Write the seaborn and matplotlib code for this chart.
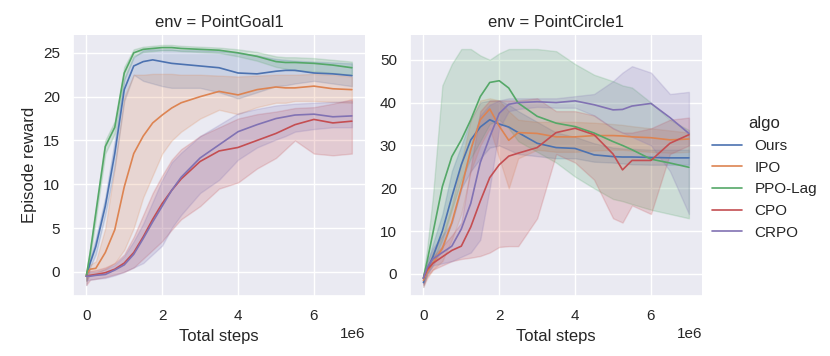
import matplotlib
matplotlib.use("Agg")
import pandas as pd
import matplotlib.pyplot as plt
import seaborn as sns

# x positions (in millions of steps)
steps = [0, 0.1, 0.25, 0.5, 0.75, 1.0, 1.25, 1.5, 1.75, 2.0, 2.25, 2.5,
         3.0, 3.5, 4.0, 4.5, 5.0, 5.25, 5.5, 6.0, 6.5, 7.0]
envs = ["PointGoal1", "PointCircle1"]
algos = ["Ours", "IPO", "PPO-Lag", "CPO", "CRPO"]

# PointGoal1 : mean / lower / upper
goal_ours = [-0.5, 1.0, 2.9, 7.5, 13.5, 20.8, 23.5, 24.0, 24.2, 24.0, 23.8, 23.7, 23.5, 23.3, 22.7, 22.6, 22.9, 23.0, 23.0, 22.7, 22.6, 22.4]
goal_ours_lo = [-1.5, 0.5, 2.0, 6.5, 12.0, 19.5, 22.5, 21.8, 21.5, 21.2, 21.0, 21.0, 21.0, 20.5, 19.8, 20.5, 21.2, 21.3, 21.5, 21.8, 21.5, 21.2]
goal_ours_hi = [0.0, 1.5, 3.8, 8.5, 15.0, 22.0, 24.5, 25.3, 25.4, 25.4, 25.4, 25.3, 25.3, 25.2, 25.0, 24.7, 24.3, 24.2, 24.1, 24.0, 23.9, 23.8]

goal_ipo = [-0.3, 0.3, 0.4, 2.2, 4.8, 9.7, 13.5, 15.5, 17.0, 17.9, 18.7, 19.3, 20.0, 20.6, 20.2, 20.8, 21.1, 21.0, 21.0, 21.2, 20.9, 20.8]
goal_ipo_lo = [-1.0, -0.3, -0.2, 0.3, 1.0, 2.5, 5.0, 8.5, 11.0, 13.5, 15.0, 16.0, 17.5, 18.5, 18.0, 18.8, 19.3, 19.3, 19.5, 19.5, 19.4, 19.3]
goal_ipo_hi = [0.2, 0.8, 1.2, 5.0, 12.0, 20.0, 22.5, 22.5, 22.6, 22.6, 22.6, 22.5, 22.5, 22.4, 22.3, 22.4, 22.5, 22.5, 22.5, 22.6, 22.5, 22.3]

goal_ppo = [-0.5, 2.1, 6.7, 14.3, 16.5, 22.7, 25.0, 25.4, 25.5, 25.6, 25.6, 25.5, 25.4, 25.3, 25.0, 24.6, 24.0, 23.9, 23.9, 23.8, 23.6, 23.3]
goal_ppo_lo = [-1.0, 1.6, 6.0, 13.5, 15.8, 22.0, 24.6, 25.1, 25.2, 25.3, 25.3, 25.2, 25.1, 25.0, 24.6, 24.1, 23.4, 23.2, 23.0, 22.9, 22.7, 22.5]
goal_ppo_hi = [0.0, 2.6, 7.4, 15.0, 17.2, 23.4, 25.4, 25.7, 25.8, 25.9, 25.9, 25.8, 25.7, 25.6, 25.4, 25.1, 24.6, 24.5, 24.5, 24.4, 24.2, 24.0]

goal_cpo = [-0.5, -0.4, -0.3, -0.1, 0.3, 1.0, 2.2, 4.0, 6.0, 7.8, 9.3, 10.6, 12.6, 13.8, 14.2, 15.0, 15.8, 16.3, 16.8, 17.4, 17.0, 17.2]
goal_cpo_lo = [-1.5, -0.9, -0.8, -0.6, -0.3, 0.0, 0.5, 1.5, 2.5, 3.5, 4.8, 6.0, 7.5, 9.5, 10.2, 11.8, 13.0, 14.0, 15.0, 13.5, 13.3, 13.5]
goal_cpo_hi = [0.0, 0.1, 0.2, 0.5, 1.0, 2.0, 4.0, 6.5, 9.0, 11.0, 12.8, 14.0, 15.5, 16.5, 17.5, 18.0, 18.3, 18.5, 18.7, 18.8, 19.2, 19.7]

goal_crpo = [-0.5, -0.5, -0.4, -0.3, 0.2, 0.8, 2.0, 3.8, 5.7, 7.5, 9.3, 10.8, 13.0, 14.5, 16.0, 16.8, 17.5, 17.7, 17.9, 18.0, 17.7, 17.8]
goal_crpo_lo = [-1.0, -0.9, -0.8, -0.7, -0.4, 0.0, 0.5, 1.0, 2.0, 3.0, 5.0, 6.5, 9.0, 10.5, 12.8, 14.2, 15.1, 15.5, 16.0, 16.3, 16.5, 16.5]
goal_crpo_hi = [0.0, 0.0, 0.0, 0.3, 0.8, 1.8, 3.5, 5.5, 8.0, 10.5, 12.5, 13.6, 15.5, 16.8, 18.1, 18.6, 19.0, 19.1, 19.2, 19.3, 19.4, 19.5]

# PointCircle1
circ_ours = [-2.0, 1.0, 4.0, 10.0, 18.0, 25.5, 31.3, 34.3, 36.0, 35.0, 34.3, 33.0, 30.5, 29.5, 29.3, 27.8, 27.4, 27.3, 27.3, 27.2, 27.1, 27.1]
circ_ours_lo = [-3.0, 0.0, 2.0, 6.0, 12.0, 20.0, 24.0, 27.0, 29.5, 30.0, 29.0, 28.0, 27.5, 27.0, 27.0, 26.2, 26.0, 25.8, 25.6, 25.5, 25.5, 25.5]
circ_ours_hi = [-1.0, 2.5, 7.0, 14.0, 24.0, 30.0, 36.0, 40.0, 40.5, 40.5, 39.5, 38.0, 35.5, 33.0, 32.0, 30.5, 29.5, 29.3, 29.2, 29.0, 29.0, 29.0]

circ_ipo = [-1.5, 0.5, 2.5, 6.0, 12.0, 20.0, 29.0, 36.0, 38.5, 34.5, 31.2, 33.0, 32.8, 32.0, 32.0, 32.3, 32.3, 32.2, 32.0, 31.8, 31.3, 31.5]
circ_ipo_lo = [-3.0, -1.0, 1.0, 3.0, 8.0, 14.0, 24.0, 30.0, 34.0, 27.0, 20.0, 27.0, 29.0, 28.5, 28.5, 28.8, 29.0, 29.0, 28.8, 28.5, 28.3, 28.5]
circ_ipo_hi = [0.0, 2.0, 5.0, 9.0, 16.0, 26.0, 36.0, 40.5, 41.0, 40.5, 38.0, 36.0, 35.5, 35.5, 35.5, 35.3, 35.0, 34.8, 34.5, 34.0, 33.5, 33.0]

circ_ppo = [-1.0, 3.0, 9.5, 20.4, 27.4, 31.3, 36.0, 41.4, 44.7, 45.1, 43.4, 39.9, 36.8, 35.2, 34.4, 32.9, 30.9, 30.0, 29.0, 26.8, 25.9, 24.9]
circ_ppo_lo = [-2.0, 0.5, 3.0, 8.0, 15.0, 22.0, 27.0, 31.0, 35.0, 36.0, 34.0, 31.0, 28.5, 26.0, 22.7, 20.0, 17.5, 17.0, 16.3, 15.0, 14.0, 13.0]
circ_ppo_hi = [0.0, 6.0, 18.0, 44.0, 49.0, 52.5, 52.5, 51.0, 50.0, 51.5, 52.5, 52.5, 52.5, 52.0, 49.0, 46.5, 45.0, 44.0, 43.5, 40.0, 36.0, 33.6]

circ_cpo = [-1.0, 1.0, 2.5, 4.0, 5.5, 6.5, 11.0, 17.0, 22.5, 25.5, 27.5, 28.2, 29.5, 33.0, 34.0, 32.5, 28.0, 24.3, 26.5, 26.5, 30.5, 32.5]
circ_cpo_lo = [-2.5, -0.5, 1.0, 2.0, 3.0, 3.5, 3.8, 4.2, 5.0, 6.3, 6.5, 6.5, 13.0, 28.0, 26.0, 22.0, 13.0, 12.0, 16.0, 14.0, 28.0, 30.0]
circ_cpo_hi = [0.0, 2.0, 4.0, 6.5, 9.0, 12.0, 25.0, 38.0, 40.5, 40.5, 40.5, 40.5, 41.0, 38.0, 38.0, 37.0, 34.0, 33.0, 33.0, 34.0, 36.0, 36.5]

circ_crpo = [-1.0, 1.5, 3.5, 5.0, 6.5, 10.5, 16.5, 26.0, 32.0, 37.5, 39.6, 40.0, 40.2, 40.0, 40.4, 39.5, 38.3, 38.4, 39.2, 39.8, 36.5, 32.8]
circ_crpo_lo = [-2.5, 0.0, 2.0, 2.5, 3.0, 4.0, 5.0, 8.0, 20.0, 34.0, 38.0, 38.5, 39.0, 38.8, 38.8, 37.0, 34.0, 33.0, 32.0, 30.0, 24.0, 14.0]
circ_crpo_hi = [0.0, 3.0, 6.0, 9.0, 12.0, 20.0, 30.0, 37.0, 39.5, 40.5, 41.0, 41.0, 41.0, 41.0, 41.5, 42.0, 45.0, 47.0, 48.5, 47.0, 42.0, 42.5]

curves = {
    ("PointGoal1", "Ours"): (goal_ours, goal_ours_lo, goal_ours_hi),
    ("PointGoal1", "IPO"): (goal_ipo, goal_ipo_lo, goal_ipo_hi),
    ("PointGoal1", "PPO-Lag"): (goal_ppo, goal_ppo_lo, goal_ppo_hi),
    ("PointGoal1", "CPO"): (goal_cpo, goal_cpo_lo, goal_cpo_hi),
    ("PointGoal1", "CRPO"): (goal_crpo, goal_crpo_lo, goal_crpo_hi),
    ("PointCircle1", "Ours"): (circ_ours, circ_ours_lo, circ_ours_hi),
    ("PointCircle1", "IPO"): (circ_ipo, circ_ipo_lo, circ_ipo_hi),
    ("PointCircle1", "PPO-Lag"): (circ_ppo, circ_ppo_lo, circ_ppo_hi),
    ("PointCircle1", "CPO"): (circ_cpo, circ_cpo_lo, circ_cpo_hi),
    ("PointCircle1", "CRPO"): (circ_crpo, circ_crpo_lo, circ_crpo_hi),
}

# long-form table: low / mid / high per step, median gives the line, full range gives the band
rows = []
for (env, algo), (mid, lo, hi) in curves.items():
    for s, m, l, h in zip(steps, mid, lo, hi):
        for v in (l, m, h):
            rows.append({"env": env, "algo": algo, "Total steps": s * 1e6, "Episode reward": v})
data = pd.DataFrame(rows)

sns.set_theme(style="darkgrid", font_scale=1.0)
plt.rcParams["font.family"] = ["Liberation Sans", "DejaVu Sans"]

g = sns.relplot(data=data, x="Total steps", y="Episode reward", hue="algo", col="env",
                kind="line", hue_order=algos, col_order=envs,
                estimator="median", errorbar=("pi", 100), linewidth=1.2,
                height=3.4, aspect=1, facet_kws={"sharey": False})

g.figure.set_size_inches(8.3, 3.56)
g.figure.subplots_adjust(left=0.088, right=0.846, top=0.902, bottom=0.169, wspace=0.154)
g.axes[0, 0].set_ylim(-2.74, 27.05)
g.axes[0, 1].set_ylim(-5.1, 55.8)
sns.move_legend(g, "center left", bbox_to_anchor=(0.841, 0.5), frameon=False)

g.figure.savefig("out.png", dpi=100)
